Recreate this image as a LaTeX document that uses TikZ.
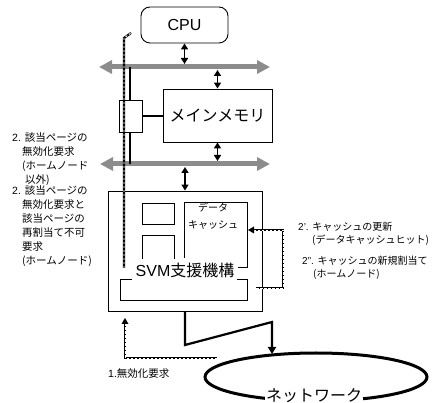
\documentclass[tikz,border=0pt]{standalone}
\usepackage{fontspec}
\setmainfont{Liberation Sans}
\newfontfamily\jp{Noto Sans CJK JP}
\usetikzlibrary{arrows.meta,shapes.geometric}
\definecolor{busgray}{RGB}{140,140,140}
\tikzset{
  bus/.style={draw=busgray, line width=5pt, {Triangle[length=13pt,width=13pt]}-{Triangle[length=13pt,width=13pt]}},
  dbl/.style={line width=1.6pt, {Triangle[length=6pt,width=7pt]}-{Triangle[length=6pt,width=7pt]}},
  box/.style={draw, line width=0.9pt, inner sep=0pt},
  thin/.style={line width=0.8pt},
  hatch/.style={line width=2.2pt, postaction={draw, white, line width=0.9pt, dash pattern=on 2pt off 2pt}},
  hatchs/.style={line width=1.7pt, postaction={draw, white, line width=0.6pt, dash pattern=on 2.5pt off 1.5pt}},
  big/.style={font=\fontsize{16}{18}\selectfont},
  lbl/.style={font=\fontsize{10.5}{14}\selectfont, align=left, inner sep=0pt},
  rlbl/.style={font=\fontsize{10}{13}\selectfont, align=left, inner sep=0pt},
}
\begin{document}
\begin{tikzpicture}[x=1pt,y=-1pt]
\useasboundingbox (0,0) rectangle (445,403);
% buses
\coordinate (ubL) at (99,67);
\coordinate (ubR) at (270,67);
\coordinate (lbL) at (100,164);
\coordinate (lbR) at (270,164);
\draw[bus] (ubL) -- (ubR);
\draw[bus] (lbL) -- (lbR);
% CPU
\node[box, rounded corners=9pt, minimum width=87pt, minimum height=36pt, big] (cpu) at (184.5,25) {CPU};
% main memory
\node[box, minimum width=109pt, minimum height=53pt, big] (mem) at (217.5,115.5) {\jp メインメモリ};
% bridge line and box
\draw[line width=2.4pt] (130,67) -- (130,164);
\node[box, fill=white, minimum width=23pt, minimum height=32pt] (bridge) at (130.5,116) {};
\draw[line width=1.6pt] (bridge.east) -- (bridge.east -| mem.west);
% vertical arrows
\draw[dbl] (cpu.south) -- ([yshift=3pt]cpu.south |- ubL);
\draw[dbl] ([yshift=-3pt]mem.north |- ubL) -- (mem.north);
\draw[dbl] (mem.south) -- ([yshift=3pt]mem.south |- lbL);
% SVM box
\node[box, minimum width=154pt, minimum height=120pt] (svm) at (185,251) {};
\draw[dbl] ([yshift=-3pt]svm.north |- lbL) -- (svm.north);
\node[box, thin, minimum width=32pt, minimum height=21pt] (sq1) at (158,213.5) {};
\draw[thin] (142,259) -- (142,235) -- (174,235) -- (174,259);
\draw[thin] (184,258) -- (184,202) -- (247,202) -- (247,267) -- (238,267);
\draw[thin] (132,279) -- (120,279) -- (120,300) -- (247,300) -- (247,279) -- (237,279);
\node[big, inner sep=0pt] (svmlbl) at (185,270) {SVM{\jp 支援機構}};
\node[font=\fontsize{10}{17}\selectfont, align=center, inner sep=0pt] (cache) at (213,216) {\jp データ\\\jp キャッシュ};
\coordinate (cacheE) at (248,230);
% network
\node[draw, ellipse, line width=3pt, minimum width=222pt, minimum height=48pt, inner sep=0pt] (net) at (316,377) {};
\node[big, fill=white, inner sep=1pt] (netlbl) at (314,396) {\jp ネットワーク};
% zigzag
\coordinate (z1) at (185,345);
\coordinate (z2) at (272,322);
\coordinate (z3) at (272,354);
\draw[line width=2.2pt, -{Triangle[length=7pt,width=8pt]}] (svm.south) -- (z1) -- (z2) -- (z3);
% dashed connectors
\coordinate (c2s) at (256,288);
\draw[hatchs] (c2s) -- (283,288) -- (283,230) -- ([xshift=5pt]cacheE);
\fill ([xshift=6pt]cacheE) -- ++(0,-3.5) -- (cacheE) -- ++(6,3.5) -- cycle;
\coordinate (n1) at (217,358);
\coordinate (inv) at (125,318);
\draw[hatchs] (n1) -- (125,358) -- ([yshift=-5pt]inv);
\fill ([yshift=-6pt]inv) -- ++(-3.5,0) -- (inv) -- ++(3.5,6) -- cycle;
% hatched vertical line
\draw[hatch] (124,268) -- (124,38) -- (131,33);
% labels (base anchor = baseline of last line)
\node[lbl, anchor=base west] (l1) at (12,184) {2. {\jp 該当ページの}\\\hspace*{10pt}{\jp 無効化要求}\\\hspace*{10pt}{\jp (ホームノード}\\\hspace*{13pt}{\jp 以外)}};
\node[lbl, anchor=base west] (l2) at (12,265) {2. {\jp 該当ページの}\\\hspace*{10pt}{\jp 無効化要求と}\\\hspace*{10pt}{\jp 該当ページの}\\\hspace*{10pt}{\jp 再割当て不可}\\\hspace*{10pt}{\jp 要求}\\\hspace*{10pt}{\jp (ホームノード)}};
\node[rlbl, anchor=base west] (r1) at (298,243.5) {2'. {\jp キャッシュの更新}\\\hspace*{14pt}{\jp (データキャッシュヒット)}};
\node[rlbl, anchor=base west] (r2) at (302,277.5) {2''. {\jp キャッシュの新規割当て}\\\hspace*{11pt}{\jp (ホームノード)}};
\node[lbl, anchor=base west] (l3) at (108,378) {1.{\jp 無効化要求}};
\end{tikzpicture}
\end{document}
